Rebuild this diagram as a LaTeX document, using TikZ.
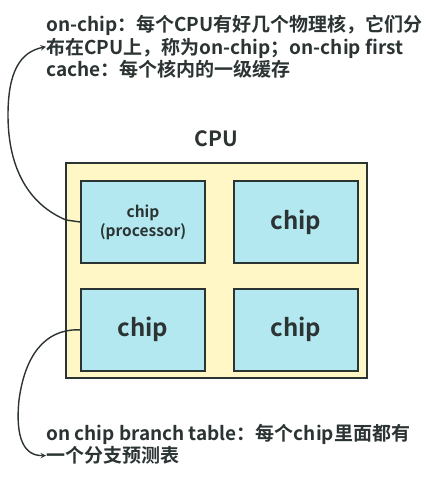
\documentclass[tikz,border=0pt]{standalone}
\usepackage{fontspec}
\setmainfont{Noto Sans CJK SC}[BoldFont={Noto Sans CJK SC Bold}]
\usetikzlibrary{positioning}
\definecolor{cpuyellow}{HTML}{FFF8C6}
\definecolor{chipblue}{HTML}{B3E8F0}
\definecolor{edgegray}{HTML}{2B3333}
\begin{document}
\begin{tikzpicture}[x=1pt,y=-1pt,>=stealth,
    chipbox/.style={draw=edgegray, line width=1.8pt, fill=chipblue, text=edgegray,
        minimum width=124pt, minimum height=82pt, font=\bfseries\fontsize{24}{26}\selectfont},
    note/.style={anchor=north west, inner sep=0pt, align=left, text=edgegray,
        font=\bfseries\fontsize{19}{22.5}\selectfont}]
    \useasboundingbox (0,0) rectangle (443,487);
        \begin{scope}
        % the CPU and its four chips
        \node [draw=edgegray, line width=1.8pt, fill=cpuyellow, minimum width=301pt, minimum height=215pt] (cpu) at (216.5,270.5) {};
        \node [text=edgegray, font=\bfseries\fontsize{21}{24}\selectfont] (cpulabel) at (216.5,139) {CPU};
        \node [chipbox, font=\bfseries\fontsize{15.5}{19}\selectfont, align=center] (chip00) at (143,222) {chip\\(processor)};
        \node [chipbox, right=27pt of chip00] (chip01) {chip};
        \node [chipbox, below=24pt of chip00] (chip10) {chip};
        \node [chipbox, right=27pt of chip10] (chip11) {chip};
        \end{scope}
        
        \node [note] (toptext) at (46,15) {on-chip：每个CPU有好几个物理核，它们分\\布在CPU上，称为on-chip；on-chip first\\cache：每个核内的一级缓存};
        \node [note] (bottomtext) at (46,424) {on chip branch table：每个chip里面都有\\一个分支预测表};
        
        \draw [->, line width=1.4pt, draw=edgegray] (chip00.west) -- ++(-14,-2) .. controls (30,205) and (8,170) .. (8,115) .. controls (8,72) and (20,52) .. (toptext.west);
        \draw [->, line width=1.4pt, draw=edgegray] (chip10.west) -- ++(-3,0) .. controls (45,330) and (25,355) .. (19,400) .. controls (15,440) and (25,456) .. ([yshift=-11pt]bottomtext.west);
    \end{tikzpicture}
\end{document}
